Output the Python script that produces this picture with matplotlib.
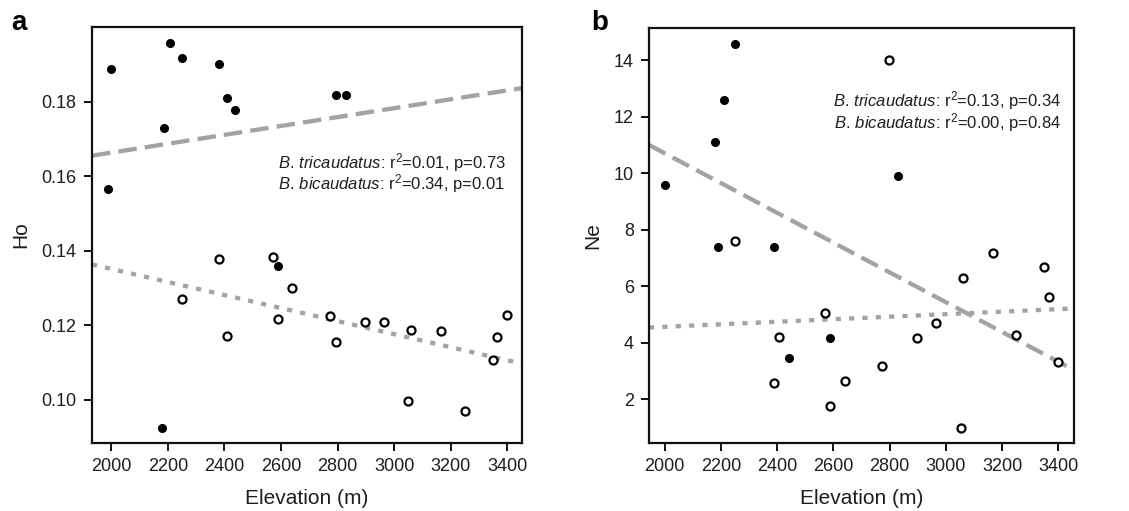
import numpy as np
import matplotlib
matplotlib.use("Agg")
import matplotlib.pyplot as plt

plt.rcParams['font.family'] = ['Liberation Sans', 'DejaVu Sans']
plt.rcParams['mathtext.fontset'] = 'custom'
plt.rcParams['mathtext.rm'] = 'Liberation Sans'
plt.rcParams['mathtext.it'] = 'Liberation Sans:italic'

# ---- Panel a: Ho vs elevation ----
a_tri_elev = [1998, 1988, 2208, 2249, 2186, 2178, 2382, 2409, 2439, 2795, 2828, 2588]
a_tri_ho = [0.1888, 0.1566, 0.1957, 0.1917, 0.1730, 0.0925, 0.1902, 0.1811, 0.1778, 0.1818, 0.1818, 0.1360]
a_bi_elev = [2249, 2382, 2409, 2571, 2588, 2639, 2773, 2796, 2898, 2964, 3060, 3048, 3165, 3249, 3348, 3365, 3398]
a_bi_ho = [0.1271, 0.1378, 0.1170, 0.1384, 0.1218, 0.1300, 0.1224, 0.1156, 0.1209, 0.1210, 0.1188, 0.0997,
           0.1186, 0.0970, 0.1107, 0.1168, 0.1227]

# ---- Panel b: Ne vs elevation ----
b_tri_elev = [2000, 2178, 2209, 2251, 2188, 2387, 2441, 2589, 2829]
b_tri_ne = [9.57, 11.09, 12.60, 14.59, 7.39, 7.39, 3.47, 4.17, 9.90]
b_bi_elev = [2251, 2387, 2408, 2571, 2589, 2642, 2773, 2799, 2899, 2965, 3053, 3060, 3166, 3249, 3350, 3366, 3398]
b_bi_ne = [7.59, 2.59, 4.19, 5.07, 1.78, 2.66, 3.19, 14.0, 4.18, 4.69, 0.99, 6.29, 7.19, 4.27, 6.70, 5.61, 3.31]

x_ticks = [2000, 2200, 2400, 2600, 2800, 3000, 3200, 3400]
a_yticks = [0.10, 0.12, 0.14, 0.16, 0.18]
a_yticklabels = ["0.10", "0.12", "0.14", "0.16", "0.18"]
b_yticks = [2, 4, 6, 8, 10, 12, 14]

a_text = [r"$\it{B.\,tricaudatus}$: r$^{2}$=0.01, p=0.73",
          r"$\it{B.\,bicaudatus}$: r$^{2}$=0.34, p=0.01"]
b_text = [r"$\it{B.\,tricaudatus}$: r$^{2}$=0.13, p=0.34",
          r"$\it{B.\,bicaudatus}$: r$^{2}$=0.00, p=0.84"]

txt_col = '#1e1e1e'
line_col = '#a3a3a3'

fig = plt.figure(figsize=(11.29, 5.11), dpi=100)
ax_a = fig.add_axes([0.0815, 0.1331, 0.4624 - 0.0815, 0.9472 - 0.1331])
ax_b = fig.add_axes([0.5749, 0.1331, 0.9513 - 0.5749, 0.9452 - 0.1331])


def draw(ax, tx, ty, bx, by, xlim, ylim):
    ax.set_xlim(*xlim)
    ax.set_ylim(*ylim)
    xs = np.array(xlim)
    # regression lines
    c1 = np.polyfit(tx, ty, 1)
    ax.plot(xs, np.polyval(c1, xs), color=line_col, lw=3.1, dashes=(4.3, 1.9), zorder=1,
            dash_capstyle='butt')
    c2 = np.polyfit(bx, by, 1)
    ax.plot(xs, np.polyval(c2, xs), color=line_col, lw=3.1, dashes=(1.2, 1.9), zorder=1,
            dash_capstyle='butt')
    ax.plot(tx, ty, 'o', color='black', ms=5.5, zorder=3, clip_on=False)
    ax.plot(bx, by, 'o', mfc='white', mec='black', mew=1.6, ms=5.8, zorder=3, clip_on=False)
    for s in ax.spines.values():
        s.set_linewidth(1.6)
        s.set_color('#111111')
    ax.tick_params(width=1.4, length=6, labelsize=13, pad=5, direction='out',
                   color='#111111', labelcolor=txt_col)
    ax.set_xticks(x_ticks)
    ax.set_xlabel('Elevation (m)', fontsize=15, labelpad=10, color=txt_col)


draw(ax_a, a_tri_elev, a_tri_ho, a_bi_elev, a_bi_ho, (1932, 3452), (0.0884, 0.2001))
ax_a.set_yticks(a_yticks)
ax_a.set_yticklabels(a_yticklabels)
ax_a.set_ylabel('Ho', fontsize=15, labelpad=8, color=txt_col)
ax_a.text(0.433, 0.675, a_text[0], transform=ax_a.transAxes, fontsize=12, ha='left', va='center', color=txt_col)
ax_a.text(0.433, 0.623, a_text[1], transform=ax_a.transAxes, fontsize=12, ha='left', va='center', color=txt_col)

draw(ax_b, b_tri_elev, b_tri_ne, b_bi_elev, b_bi_ne, (1944, 3456), (0.456, 15.14))
ax_b.set_yticks(b_yticks)
ax_b.set_ylabel('Ne', fontsize=15, labelpad=8, color=txt_col)
ax_b.text(0.969, 0.826, b_text[0], transform=ax_b.transAxes, fontsize=12, ha='right', va='center', color=txt_col)
ax_b.text(0.969, 0.773, b_text[1], transform=ax_b.transAxes, fontsize=12, ha='right', va='center', color=txt_col)

fig.text(0.0097, 0.942, 'a', fontsize=20, fontweight='bold', ha='left', va='baseline')
fig.text(0.524, 0.942, 'b', fontsize=20, fontweight='bold', ha='left', va='baseline')

fig.savefig('out.png', dpi=100)
